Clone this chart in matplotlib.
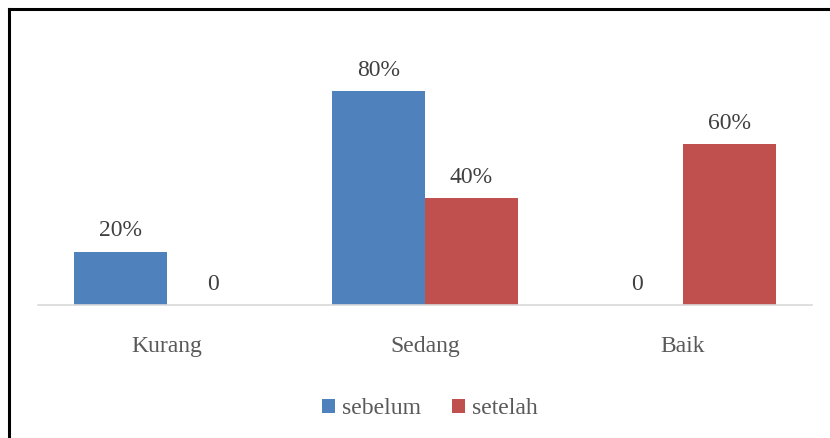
import matplotlib
matplotlib.use("Agg")
import matplotlib.pyplot as plt
import numpy as np
from matplotlib.lines import Line2D
from matplotlib.patches import Patch

categories = ["Kurang", "Sedang", "Baik"]
series_names = ["sebelum", "setelah"]
sebelum = [20, 80, 0]
setelah = [0, 40, 60]
sebelum_labels = ["20%", "80%", "0"]
setelah_labels = ["0", "40%", "60%"]

colors = ["#4F81BD", "#C0504D"]
plt.rcParams['font.family'] = ['Liberation Serif', 'DejaVu Serif']

fig = plt.figure(figsize=(8.3, 4.38), dpi=100)
ax = fig.add_axes([38/830, 133/438, 774/830, 267.5/438])

x = np.arange(len(categories))
w = 0.36
b1 = ax.bar(x - w/2, sebelum, w, color=colors[0], label=series_names[0])
b2 = ax.bar(x + w/2, setelah, w, color=colors[1], label=series_names[1])

for bars, labels in ((b1, sebelum_labels), (b2, setelah_labels)):
    for r, lab in zip(bars, labels):
        ax.annotate(lab, (r.get_x() + r.get_width()/2, r.get_height()),
                    xytext=(0, 7.5), textcoords="offset points",
                    ha="center", va="bottom", fontsize=17, color="#404040")

ax.set_xlim(-0.5, 2.5)
ax.set_ylim(0, 100)
ax.set_yticks([])
ax.set_xticks(x)
ax.set_xticklabels(categories, fontsize=17, color="#595959")
ax.tick_params(axis="x", length=0, pad=22)
for s in ["top", "right", "left"]:
    ax.spines[s].set_visible(False)
ax.spines["bottom"].set_color("#D9D9D9")
ax.spines["bottom"].set_linewidth(1.2)

handles = [Patch(facecolor=c, edgecolor="none") for c in colors]
leg = fig.legend(handles, series_names, loc="center", bbox_to_anchor=(430/830, 1 - 409/438),
                 ncol=2, frameon=False, fontsize=17, handlelength=0.55, handleheight=0.55,
                 handletextpad=0.3, columnspacing=1.3, labelcolor="#595959")

# outer border (top and left visible)
fig.add_artist(Line2D([8.5/830, 1.0], [1 - 8.5/438, 1 - 8.5/438], color="black", lw=2.2, transform=fig.transFigure))
fig.add_artist(Line2D([8.5/830, 8.5/830], [0, 1 - 8.5/438], color="black", lw=2.2, transform=fig.transFigure))

fig.savefig("out.png", dpi=100)
